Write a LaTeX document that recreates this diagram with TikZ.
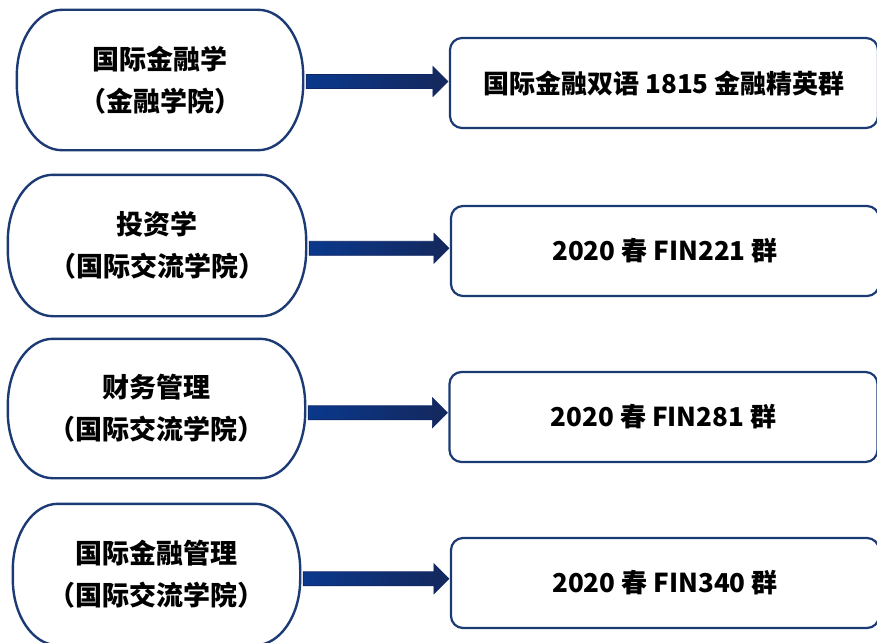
\documentclass[tikz,border=0pt]{standalone}
\usepackage{fontspec}
\setmainfont{Noto Sans CJK SC}
\usetikzlibrary{calc}
\definecolor{navy}{RGB}{28,58,116}
\definecolor{arrL}{RGB}{10,56,140}
\definecolor{arrR}{RGB}{20,40,92}
\definecolor{arrE}{RGB}{14,38,100}
\tikzset{
  leftbox/.style={inner sep=0pt, align=center, font=\fontsize{27}{42}\selectfont\bfseries},
  rightbox/.style={draw=navy, line width=2.2pt, rounded corners=12pt, inner sep=0pt,
    minimum width=428pt, minimum height=90pt, font=\fontsize{26}{30}\selectfont\bfseries},
  leftborder/.style={draw=navy, line width=2.4pt},
  bigarrow/.style={left color=arrL, right color=arrR, draw=arrE, line width=0.6pt}
}
\begin{document}
\begin{tikzpicture}[x=1pt,y=-1pt]
\useasboundingbox[fill=white] (0,0) rectangle (877,642);
% left nodes
\node[leftbox, minimum width=286pt, minimum height=140pt] (l1) at (160,80) {国际金融学\\（金融学院）};
\node[leftbox, minimum width=298pt, minimum height=141pt] (l2) at (157,245.5) {投资学\\（国际交流学院）};
\node[leftbox, minimum width=297pt, minimum height=139pt] (l3) at (156.5,408.5) {财务管理\\（国际交流学院）};
\node[leftbox, minimum width=287pt, minimum height=141pt] (l4) at (156.5,574.5) {国际金融管理\\（国际交流学院）};
\foreach \n in {l1,l2,l3,l4}{
  \draw[leftborder] ($(\n.north west)+(45pt,0)$) -- ($(\n.north east)+(-45pt,0)$)
    arc[start angle=90, end angle=0, x radius=45pt, y radius=66pt]
    -- ($(\n.south east)+(0,66pt)$)
    arc[start angle=0, end angle=-90, x radius=45pt, y radius=66pt]
    -- ($(\n.south west)+(45pt,0)$)
    arc[start angle=-90, end angle=-180, x radius=45pt, y radius=66pt]
    -- ($(\n.north west)+(0,-66pt)$)
    arc[start angle=180, end angle=90, x radius=45pt, y radius=66pt] -- cycle;
}
% right nodes
\node[rightbox] (r1) at (664,83) {国际金融双语 1815 金融精英群};
\node[rightbox] (r2) at (665,251) {2020 春 FIN221 群};
\node[rightbox] (r3) at (663.5,417) {2020 春 FIN281 群};
\node[rightbox] (r4) at (665,583) {2020 春 FIN340 群};
% arrows
\foreach \i in {1,2,3,4}{
  \coordinate (m\i) at ($(l\i.east)!0.5!(r\i.west)$);
  \coordinate (s\i) at (l\i.east |- m\i);
  \coordinate (t\i) at (r\i.west |- m\i);
  \shade[bigarrow] ($(s\i)+(3pt,7pt)$) -- ($(t\i)+(-16pt,7pt)$) -- ($(t\i)+(-16pt,15pt)$)
    -- ($(t\i)+(-1pt,0)$) -- ($(t\i)+(-16pt,-15pt)$) -- ($(t\i)+(-16pt,-7pt)$)
    -- ($(s\i)+(3pt,-7pt)$) -- cycle;
}
\end{tikzpicture}
\end{document}
